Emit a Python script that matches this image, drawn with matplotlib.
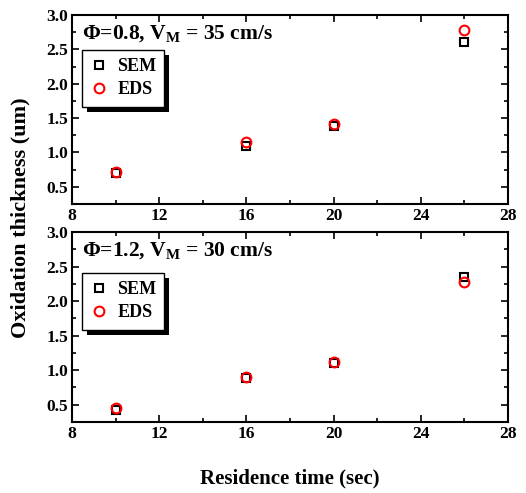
import matplotlib
matplotlib.use('Agg')
import matplotlib.pyplot as plt
from matplotlib.ticker import MultipleLocator
from matplotlib.patches import Rectangle

plt.rcParams['font.family'] = ['Liberation Serif', 'DejaVu Serif']
plt.rcParams['font.weight'] = 'bold'
plt.rcParams['mathtext.fontset'] = 'custom'
plt.rcParams['mathtext.rm'] = 'Liberation Serif:bold'
plt.rcParams['mathtext.bf'] = 'Liberation Serif:bold'
plt.rcParams['mathtext.it'] = 'Liberation Serif:bold:italic'

# residence time (sec)
time_s = [10, 16, 20, 26]

# phi = 0.8, V_M = 35 cm/s
sem_08 = [0.70, 1.10, 1.38, 2.60]
eds_08 = [0.72, 1.15, 1.42, 2.78]

# phi = 1.2, V_M = 30 cm/s
sem_12 = [0.42, 0.89, 1.10, 2.35]
eds_12 = [0.45, 0.90, 1.12, 2.28]

titles = ['Φ=0.8, V$_{\\mathrm{M}}$ = 35 cm/s', 'Φ=1.2, V$_{\\mathrm{M}}$ = 30 cm/s']
xticks = [8, 12, 16, 20, 24, 28]
yticks = [0.5, 1.0, 1.5, 2.0, 2.5, 3.0]

fig = plt.figure(figsize=(5.26, 4.93), dpi=100)
W, H = 526, 493
ax1 = fig.add_axes([72 / W, 1 - 204 / H, 436 / W, 189 / H])
ax2 = fig.add_axes([72 / W, 1 - 422 / H, 436 / W, 190 / H])

panels = [(ax1, sem_08, eds_08, titles[0], 0.815), (ax2, sem_12, eds_12, titles[1], 0.784)]
legends = []
for ax, sem, eds, title, leg_top in panels:
    ax.plot(time_s, sem, ls='none', marker='s', ms=6, mfc='none', mec='black', mew=1.5, label='SEM')
    ax.plot(time_s, eds, ls='none', marker='o', ms=7, mfc='none', mec='red', mew=1.5, label='EDS')
    ax.set_xlim(8, 28)
    ax.set_ylim(0.25, 3.0)
    ax.set_xticks(xticks)
    ax.set_yticks(yticks)
    ax.xaxis.set_minor_locator(MultipleLocator(2))
    ax.yaxis.set_minor_locator(MultipleLocator(0.25))
    ax.tick_params(which='both', direction='in', top=True, right=True, width=1.2)
    ax.tick_params(which='major', length=5, labelsize=12.5, pad=3)
    ax.tick_params(which='minor', length=3)
    for lab in ax.get_xticklabels() + ax.get_yticklabels():
        lab.set_fontweight('bold')
    for s in ax.spines.values():
        s.set_linewidth(1.5)
    ax.text(0.022, 0.955, title, transform=ax.transAxes, ha='left', va='top',
            fontsize=15.5, fontweight='bold')
    leg = ax.legend(loc='upper left', bbox_to_anchor=(0.023, leg_top), borderaxespad=0,
                    fancybox=False, edgecolor='black', framealpha=1, fontsize=13,
                    handletextpad=0.5, borderpad=0.45, handlelength=1.0, labelspacing=0.35)
    leg.get_frame().set_linewidth(1.0)
    for t in leg.get_texts():
        t.set_fontweight('bold')
    legends.append(leg)

fig.text(0.038, (493 - 218) / H, 'Oxidation thickness (um)', rotation=90,
         ha='center', va='center', fontsize=16, fontweight='bold')
fig.text((72 + 218) / W, 1 - 478 / H, 'Residence time (sec)', ha='center', va='center',
         fontsize=15, fontweight='bold')

# legend drop shadows
fig.canvas.draw()
for ax, leg in zip([ax1, ax2], legends):
    bb = leg.get_frame().get_window_extent()
    rect = Rectangle((bb.x0 + 5, bb.y0 - 5), bb.width, bb.height, transform=None,
                     facecolor='black', edgecolor='none', zorder=leg.get_zorder() - 0.1)
    ax.add_artist(rect)
    rect.set_clip_on(False)

fig.savefig('out.png', dpi=100)
